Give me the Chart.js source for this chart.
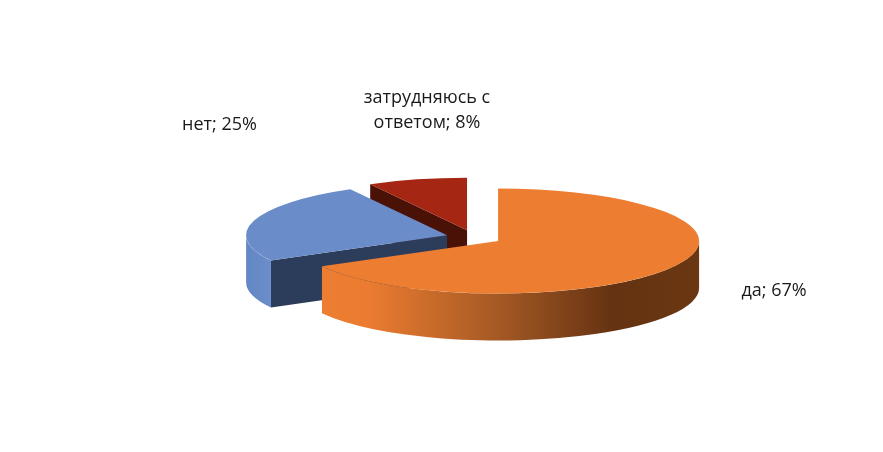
<!DOCTYPE html>
<html lang="ru">
<head>
<meta charset="utf-8">
<style>html,body{margin:0;padding:0;background:#fff}canvas{display:block}</style>
<script src="https://cdn.jsdelivr.net/npm/chart.js@4"></script>
</head>
<body>
<canvas id="c" width="883" height="452"></canvas>
<script>
const categories = ['да', 'нет', 'затрудняюсь с ответом'];
const percentValues = [67, 25, 8];
const topColors = ['#ed7d31', '#6a8cc9', '#a52713'];
const cutFaceColors = ['#65330f', '#2c3c5b', '#4a1106'];

// 3D pie projection on screen
const view = {cx: 474, cy: 237.3, rx: 201, ry: 52.5, depth: 47, explode: 28};
const labelFont = '18px "Open Sans", sans-serif';
const labelColor = '#1a1a1a';
const labelLineHeight = 25;
const labelBoxes = [
  {x: 774, y: 291, wrap: 200},
  {x: 219.5, y: 125, wrap: 200},
  {x: 427, y: 97.5, wrap: 140}
];

function wrapText(ctx, text, maxW) {
  const lines = [];
  let cur = '';
  text.split(' ').forEach(w => {
    const t = cur ? cur + ' ' + w : w;
    if (ctx.measureText(t).width > maxW && cur) { lines.push(cur); cur = w; } else cur = t;
  });
  lines.push(cur);
  return lines;
}

const pie3d = {
  id: 'pie3d',
  beforeDatasetsDraw(chart) {
    const ctx = chart.ctx;
    const arcs = chart.getDatasetMeta(0).data;
    const scale = view.rx / arcs[0].outerRadius;
    const squash = view.ry / arcs[0].outerRadius;
    const off = view.explode / view.rx;
    // back slices first, front slice last
    for (let i = arcs.length - 1; i >= 0; i--) {
      const a = arcs[i];
      const mid = (a.startAngle + a.endAngle) / 2;
      const px = view.cx + Math.cos(mid) * off * view.rx;
      const py = view.cy + Math.sin(mid) * off * view.ry;

      // cut face at the start of the slice, when it turns towards the viewer
      const sx = px + Math.cos(a.startAngle) * view.rx;
      const sy = py + Math.sin(a.startAngle) * view.ry;
      if (i > 0) {
        ctx.fillStyle = cutFaceColors[i];
        ctx.beginPath();
        ctx.moveTo(px, py);
        ctx.lineTo(sx, sy);
        ctx.lineTo(sx, sy + view.depth);
        ctx.lineTo(px, py + view.depth);
        ctx.closePath();
        ctx.fill();
      }

      // outer wall: the part of the rim that faces front
      const from = Math.max(a.startAngle, 0);
      const to = Math.min(a.endAngle, Math.PI);
      if (to > from) {
        const left = px + Math.cos(to) * view.rx;
        const right = from <= 0 ? px + view.rx : px + Math.cos(from) * view.rx;
        const g = ctx.createLinearGradient(left, 0, Math.max(right, left + 1), 0);
        if (i === 0) {
          g.addColorStop(0, '#ed7d31');
          g.addColorStop(0.13, '#ea7b30');
          g.addColorStop(0.45, '#a85b25');
          g.addColorStop(0.77, '#653312');
          g.addColorStop(1, '#6b3712');
        } else {
          g.addColorStop(0, '#6287c4');
          g.addColorStop(1, '#6c8dca');
        }
        ctx.fillStyle = g;
        ctx.beginPath();
        ctx.ellipse(px, py, view.rx, view.ry, 0, from, to);
        ctx.ellipse(px, py + view.depth, view.rx, view.ry, 0, to, from, true);
        ctx.closePath();
        ctx.fill();
      }

      // top face: the library's own arc element, projected
      ctx.save();
      ctx.translate(px, py);
      ctx.scale(scale, squash);
      ctx.translate(-a.x, -a.y);
      a.draw(ctx, chart.chartArea);
      ctx.restore();
    }

    // data labels
    ctx.save();
    ctx.font = labelFont;
    ctx.fillStyle = labelColor;
    ctx.textAlign = 'center';
    ctx.textBaseline = 'middle';
    categories.forEach((name, i) => {
      const lines = wrapText(ctx, name + '; ' + percentValues[i] + '%', labelBoxes[i].wrap);
      lines.forEach((ln, j) => ctx.fillText(ln, labelBoxes[i].x, labelBoxes[i].y + j * labelLineHeight));
    });
    ctx.restore();
    return false;
  }
};

new Chart(document.getElementById('c'), {
  type: 'pie',
  data: {
    labels: categories,
    datasets: [{
      data: percentValues,
      backgroundColor: topColors,
      borderWidth: 0
    }]
  },
  options: {
    responsive: false,
    animation: false,
    events: [],
    rotation: 0,
    plugins: {legend: {display: false}, tooltip: {enabled: false}}
  },
  plugins: [pie3d]
});
</script>
</body>
</html>
